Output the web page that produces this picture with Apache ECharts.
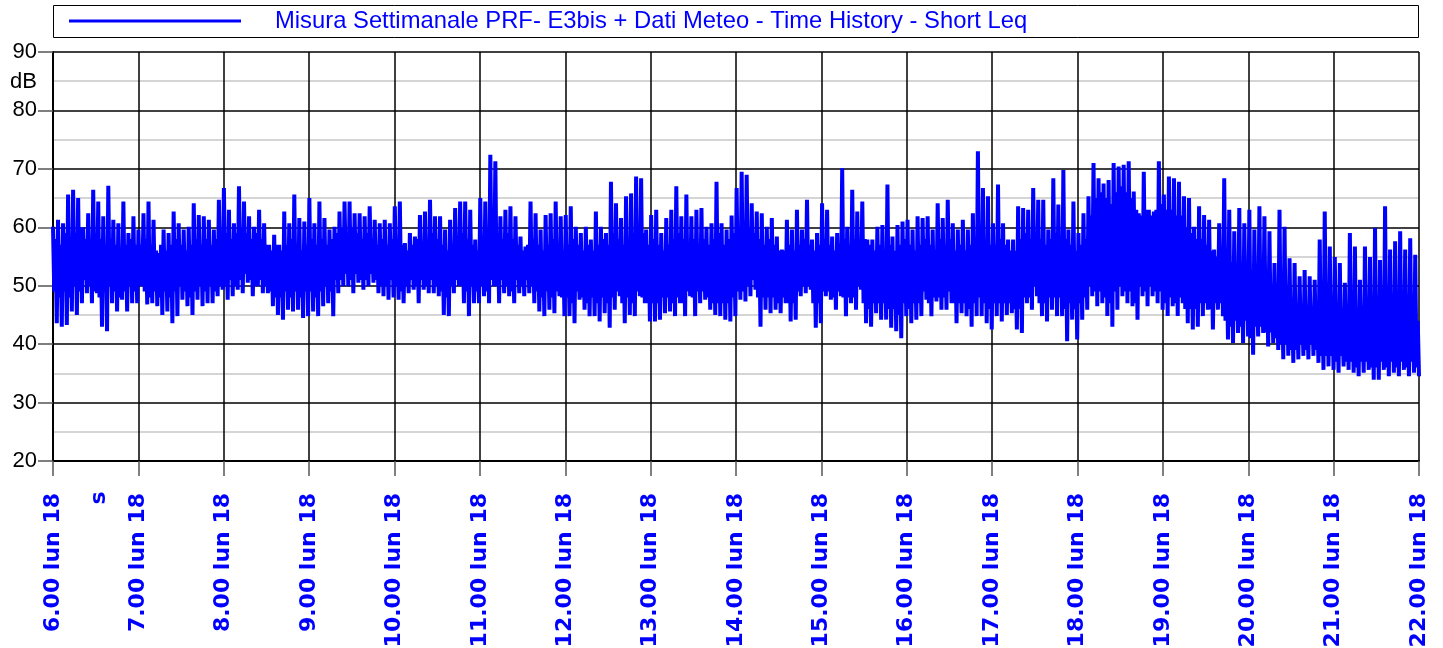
<!DOCTYPE html>
<html><head><meta charset="utf-8">
<script src="https://cdn.jsdelivr.net/npm/echarts@6/dist/echarts.min.js"></script>
<style>html,body{margin:0;padding:0;background:#fff}#c{width:1443px;height:648px}</style>
</head><body><div id="c"></div>
<script>
const seriesName = 'Misura Settimanale PRF- E3bis + Dati Meteo - Time History - Short Leq';
const yUnit = 'dB';
const xUnit = 's';
const dayLabel = 'lun 18';
const startHour = 6;
const endHour = 22;

// Short Leq (dB): alternating local maxima / minima, 17 pairs per hour
const leq06 = [60.1,43.6, 61.3,43.0, 60.7,43.3, 65.6,45.6, 66.4,45.0, 65.0,47.0, 60.0,48.7, 62.4,47.0, 66.4,48.7, 64.4,43.0, 61.9,42.2, 67.1,47.0, 61.3,45.6, 60.7,47.6, 64.4,45.6, 59.0,47.0, 61.9,47.0];
const leq07 = [59.6,49.9, 62.4,46.8, 64.4,47.0, 61.3,46.5, 55.6,45.0, 59.6,45.6, 59.0,43.6, 62.7,44.8, 60.7,47.6, 59.6,46.5, 60.1,45.0, 64.1,47.6, 62.1,46.5, 61.9,47.0, 61.3,47.0, 59.6,48.2, 64.7,49.3];
const leq08 = [66.7,47.6, 63.0,48.2, 60.7,49.3, 67.0,48.7, 64.4,50.5, 61.9,48.2, 60.1,49.9, 63.0,48.7, 60.7,48.7, 57.0,46.5, 58.7,45.0, 57.0,44.2, 62.7,45.9, 60.7,45.6, 65.6,45.9, 61.6,44.5, 61.0,44.8];
const leq09 = [65.0,45.6, 60.7,44.8, 64.4,46.5, 61.6,47.0, 59.6,44.8, 60.1,48.7, 62.7,49.9, 64.4,49.9, 64.4,48.7, 62.4,50.5, 62.4,49.3, 61.9,49.9, 63.6,50.5, 61.3,48.7, 60.7,48.2, 61.3,47.6, 60.7,48.0];
const leq10 = [63.6,47.6, 64.4,47.0, 57.3,48.7, 59.0,49.3, 58.4,47.0, 62.1,49.3, 62.7,48.7, 64.7,48.7, 61.9,48.2, 61.9,45.0, 59.6,44.8, 61.3,48.7, 63.3,49.9, 64.4,47.0, 64.4,44.8, 63.0,47.0, 57.9,47.0];
const leq11 = [65.0,48.2, 64.4,47.0, 72.4,49.9, 71.3,47.0, 61.9,48.7, 63.0,48.2, 63.6,47.0, 61.9,48.7, 58.4,48.2, 56.7,48.7, 64.4,47.0, 62.4,45.6, 59.6,44.8, 62.1,45.9, 62.4,45.3, 64.4,48.2, 61.9,44.8];
const leq12 = [62.1,44.8, 63.6,43.6, 60.1,47.6, 59.0,45.9, 60.1,44.8, 57.9,44.8, 62.7,43.9, 60.1,45.3, 59.0,42.8, 67.8,45.9, 64.1,48.2, 61.6,43.6, 65.3,45.0, 65.8,44.8, 68.7,48.2, 68.4,47.0, 59.6,43.9];
const leq13 = [62.1,43.9, 63.0,44.2, 59.0,45.3, 61.6,45.6, 63.0,44.8, 67.0,47.0, 61.9,44.8, 65.6,48.2, 61.9,44.8, 63.0,47.0, 63.3,47.6, 60.1,45.9, 60.7,45.0, 67.8,44.8, 60.7,44.2, 59.6,43.9, 62.0,44.8];
const leq14 = [66.7,47.6, 69.5,47.3, 69.0,48.2, 64.1,49.3, 62.7,43.0, 62.4,45.9, 60.1,45.3, 61.6,45.9, 58.4,45.3, 56.2,47.0, 61.3,43.9, 59.6,44.2, 63.0,48.2, 59.6,48.7, 64.7,49.3, 57.9,42.8, 59.0,43.6];
const leq15 = [64.1,48.2, 63.0,47.6, 58.4,45.9, 59.0,48.2, 70.1,44.8, 60.1,47.0, 66.4,45.9, 62.7,49.3, 64.4,43.6, 57.9,43.0, 57.9,45.3, 60.1,44.2, 60.4,44.2, 67.3,42.8, 58.4,42.2, 60.4,41.0, 61.0,44.8];
const leq16 = [61.3,43.6, 59.6,44.2, 61.9,44.8, 61.6,47.6, 61.9,44.8, 59.6,47.3, 64.1,45.9, 61.6,45.9, 64.7,47.0, 60.7,43.6, 59.6,45.3, 61.3,44.8, 59.6,43.0, 62.4,44.8, 73.0,44.8, 66.7,43.6, 65.3,42.5];
const leq17 = [60.7,44.8, 67.3,43.9, 60.7,45.0, 57.9,45.3, 57.9,42.5, 63.6,41.9, 63.3,47.0, 63.0,45.9, 66.7,48.2, 64.7,44.8, 64.7,43.9, 59.6,45.9, 68.4,44.8, 63.9,44.8, 69.8,40.5, 59.6,44.2, 64.4,40.8];
const leq18 = [59.0,44.2, 62.4,45.9, 65.3,48.2, 71.0,46.5, 68.4,47.0, 67.5,44.8, 68.1,43.0, 71.0,45.9, 70.4,48.2, 70.7,47.0, 71.3,46.5, 66.1,44.2, 62.4,48.2, 69.5,46.5, 63.0,48.2, 62.7,47.0, 71.3,45.9];
const leq19 = [65.6,44.8, 68.7,46.5, 68.4,44.8, 67.8,47.0, 65.3,43.6, 65.0,42.5, 60.1,43.0, 63.6,44.8, 62.1,45.9, 61.3,42.5, 56.2,45.9, 60.7,44.8, 68.4,40.8, 63.0,40.2, 59.3,41.9, 63.3,40.2, 60.7,41.3];
const leq20 = [63.0,38.2, 59.6,41.3, 63.6,41.9, 61.9,39.6, 59.3,40.2, 53.9,39.0, 63.0,37.4, 60.1,38.0, 54.7,36.8, 53.9,37.4, 51.6,38.0, 52.7,37.4, 51.6,38.0, 51.0,36.8, 57.9,35.6, 62.7,36.2, 56.7,35.6];
const leq21 = [54.9,35.1, 53.9,36.2, 50.5,35.6, 59.0,35.1, 56.7,34.5, 51.0,35.1, 56.7,35.6, 54.9,33.9, 59.9,33.9, 54.4,35.6, 63.6,34.5, 56.2,35.1, 57.6,34.5, 59.3,35.6, 56.2,34.5, 58.1,35.1, 55.3,34.5];

// Dense core of the signal between the spikes (low, high), 17 pairs per hour
const core06 = [49,58, 48,57, 49,59, 48,58, 50,59, 49,60, 51,58, 50,57, 49,59, 48,58, 49,57, 50,58, 49,57, 48,56, 49,57, 50,58, 49,57];
const core07 = [50,57, 49,58, 48,57, 49,56, 48,57, 49,56, 48,57, 49,58, 50,57, 49,56, 48,57, 49,58, 50,57, 49,58, 50,57, 49,58, 50,59];
const core08 = [50,59, 51,58, 50,59, 51,60, 52,59, 51,58, 50,59, 51,58, 50,57, 49,56, 48,57, 48,56, 49,57, 48,58, 49,57, 48,56, 49,57];
const core09 = [49,58, 48,57, 49,58, 50,57, 49,58, 51,59, 51,60, 52,59, 51,60, 52,59, 51,58, 51,59, 52,58, 51,57, 50,58, 50,57, 51,58];
const core10 = [50,58, 49,57, 50,56, 51,57, 50,58, 51,57, 50,58, 51,59, 50,58, 49,57, 48,56, 50,57, 51,58, 50,59, 49,58, 50,57, 49,56];
const core11 = [50,58, 49,59, 51,60, 50,59, 51,58, 50,59, 49,58, 51,57, 50,56, 51,57, 50,58, 49,57, 48,56, 49,57, 48,58, 49,57, 48,56];
const core12 = [48,57, 47,58, 49,57, 48,56, 47,57, 48,56, 47,57, 48,58, 47,57, 48,59, 49,58, 47,57, 48,58, 47,59, 49,58, 48,59, 47,57];
const core13 = [47,58, 47,57, 48,56, 48,57, 47,58, 48,59, 47,58, 49,57, 48,58, 49,57, 49,58, 48,57, 47,58, 47,59, 47,57, 47,58, 48,59];
const core14 = [49,60, 49,61, 50,60, 51,59, 48,58, 48,57, 48,58, 48,57, 47,56, 48,56, 47,57, 47,56, 49,57, 50,58, 50,57, 47,56, 47,57];
const core15 = [49,58, 49,57, 48,56, 49,57, 48,58, 48,57, 48,58, 50,57, 47,58, 46,57, 47,56, 47,57, 47,56, 46,57, 46,56, 45,57, 47,58];
const core16 = [46,57, 47,56, 47,57, 49,58, 47,57, 48,56, 48,58, 48,57, 49,58, 47,56, 47,57, 47,56, 46,57, 47,58, 48,59, 47,58, 46,57];
const core17 = [47,57, 47,58, 47,57, 47,56, 46,56, 46,58, 48,59, 48,58, 50,59, 47,58, 47,57, 48,58, 48,59, 48,58, 46,58, 47,57, 46,56];
const core18 = [47,57, 48,58, 50,62, 49,65, 49,66, 48,65, 47,64, 49,66, 50,67, 49,66, 49,65, 47,63, 50,62, 49,63, 50,62, 49,63, 49,64];
const core19 = [47,63, 48,63, 47,62, 48,62, 46,60, 46,59, 46,58, 47,58, 47,57, 46,56, 47,55, 47,56, 44,55, 43,54, 44,53, 43,54, 44,53];
const core20 = [41,52, 43,51, 43,52, 42,51, 42,50, 41,49, 40,50, 40,49, 39,47, 39,46, 40,46, 39,45, 40,46, 39,45, 38,46, 38,47, 38,46];
const core21 = [37,45, 38,44, 37,43, 37,45, 36,44, 37,43, 37,44, 36,45, 36,46, 37,44, 36,46, 37,45, 36,46, 37,45, 36,44, 37,45, 36,44];

const peakBlocks = [leq06, leq07, leq08, leq09, leq10, leq11, leq12, leq13, leq14, leq15, leq16, leq17, leq18, leq19, leq20, leq21];
const coreBlocks = [core06, core07, core08, core09, core10, core11, core12, core13, core14, core15, core16, core17, core18, core19, core20, core21];

// sequence per interval: spike max, core low, core high, dip min
const values = [];
peakBlocks.forEach((pk, h) => {
  const cr = coreBlocks[h];
  for (let i = 0; i < pk.length; i += 2) {
    values.push(pk[i], cr[i], cr[i + 1], pk[i + 1]);
  }
});
const step = (endHour - startHour) / (values.length - 1);
const data = values.map((v, i) => [startHour + i * step, v]);

const BLUE = '#0000ff';
const chart = echarts.init(document.getElementById('c'), null, {renderer: 'canvas'});
chart.setOption({
  animation: false,
  backgroundColor: '#fff',
  grid: {left: 53, right: 24, top: 52, bottom: 187, containLabel: false, outerBoundsMode: 'none'},
  legend: {
    left: 69, top: 9, padding: 0,
    icon: 'rect', itemWidth: 172, itemHeight: 3,
    textStyle: {color: BLUE, fontSize: 23.8, fontFamily: 'Arial, "Liberation Sans"', padding: [0, 0, 0, 29]},
    data: [seriesName]
  },
  xAxis: {
    type: 'value', min: startHour, max: endHour, interval: 1,
    axisLine: {show: true, onZero: false, lineStyle: {color: '#000', width: 2}},
    axisTick: {show: true, length: 15, lineStyle: {color: '#555', width: 1.5}},
    axisLabel: {
      rotate: 90, margin: 32, color: BLUE, fontWeight: 'bold', fontSize: 22,
      fontFamily: '"DejaVu Sans", Verdana, sans-serif',
      formatter: v => v.toFixed(0) + '.00 ' + dayLabel
    },
    splitLine: {show: true, lineStyle: {color: '#000', width: 1.5}}
  },
  yAxis: {
    type: 'value', min: 20, max: 90, interval: 10,
    axisLine: {show: true, lineStyle: {color: '#000', width: 2}},
    axisTick: {show: true, length: 15, lineStyle: {color: '#555', width: 1.5}},
    axisLabel: {margin: 16, color: '#000', fontSize: 22, fontFamily: 'Arial, "Liberation Sans"'},
    splitLine: {show: true, lineStyle: {color: '#000', width: 1.5}},
    minorTick: {show: false, splitNumber: 2},
    minorSplitLine: {show: true, lineStyle: {color: '#c8c8c8', width: 1.5}}
  },
  graphic: [
    {type: 'rect', z: -1, shape: {x: 53.5, y: 5.5, width: 1365, height: 32}, style: {fill: '#fff', stroke: '#000', lineWidth: 1}},
    {type: 'text', x: 37, y: 82, style: {text: yUnit, align: 'right', verticalAlign: 'middle', fill: '#000', font: '22px Arial, "Liberation Sans"'}},
    {type: 'text', x: 99, y: 498, rotation: Math.PI / 2, style: {text: xUnit, align: 'center', verticalAlign: 'middle', fill: BLUE, font: 'bold 22px "DejaVu Sans", Verdana'}}
  ],
  series: [{
    name: seriesName, type: 'line', data: data,
    showSymbol: false, symbol: 'none',
    lineStyle: {color: BLUE, width: 4},
    itemStyle: {color: BLUE},
    z: 5
  }]
});
</script></body></html>
